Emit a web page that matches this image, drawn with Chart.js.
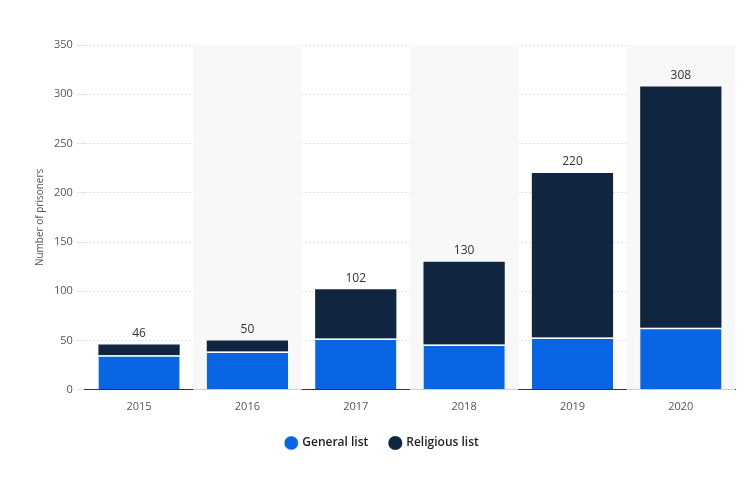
<!DOCTYPE html>
<html>
<head>
<script src="https://cdn.jsdelivr.net/npm/chart.js"></script>
<style>
  body { margin: 0; background: #fff; }
  #wrap { width: 753px; height: 479px; }
</style>
</head>
<body>
<div id="wrap"><canvas id="myChart"></canvas></div>
<script>
const years = ['2015', '2016', '2017', '2018', '2019', '2020'];
const generalList = [35, 39, 52, 46, 53, 63];
const totals = [46, 50, 102, 130, 220, 308];
const religiousList = [11, 11, 50, 84, 167, 245];
const yTicks = [0, 50, 100, 150, 200, 250, 300, 350];

// shaded background on every other column
const bandPlugin = {
  id: 'bands',
  beforeDatasetsDraw(chart) {
    const { ctx, chartArea, scales } = chart;
    const x = scales.x;
    const w = x.getPixelForValue(1) - x.getPixelForValue(0);
    ctx.save();
    ctx.fillStyle = '#f8f8f8';
    for (let i = 1; i < years.length; i += 2) {
      const cx = x.getPixelForValue(i);
      ctx.fillRect(cx - w / 2, chartArea.top, w, chartArea.bottom - chartArea.top);
    }
    ctx.restore();
  }
};

// totals above each stack
const totalPlugin = {
  id: 'totals',
  afterDatasetsDraw(chart) {
    const { ctx, scales } = chart;
    ctx.save();
    ctx.font = '12px "Open Sans", sans-serif';
    ctx.fillStyle = '#333';
    ctx.textAlign = 'center';
    ctx.textBaseline = 'bottom';
    totals.forEach((t, i) => {
      ctx.fillText(String(t), scales.x.getPixelForValue(i), scales.y.getPixelForValue(t) - 5);
    });
    ctx.restore();
  }
};

new Chart(document.getElementById('myChart'), {
  type: 'bar',
  data: {
    labels: years,
    datasets: [{
      label: 'General list',
      data: generalList,
      backgroundColor: '#0866e4',
      borderColor: '#ffffff',
      borderWidth: { top: 1.5 },
      borderSkipped: 'bottom',
      categoryPercentage: 0.75,
      barPercentage: 1
    }, {
      label: 'Religious list',
      data: religiousList,
      backgroundColor: '#102640',
      borderWidth: 0,
      categoryPercentage: 0.75,
      barPercentage: 1
    }]
  },
  options: {
    responsive: true,
    maintainAspectRatio: false,
    animation: false,
    layout: { padding: { left: 30, right: 18, top: 45, bottom: 20 } },
    plugins: {
      legend: {
        position: 'bottom',
        labels: {
          usePointStyle: true,
          pointStyle: 'circle',
          boxWidth: 10,
          boxHeight: 10,
          padding: 22,
          color: '#222',
          font: { family: '"Open Sans", sans-serif', size: 12, weight: '600' }
        }
      },
      tooltip: { enabled: false }
    },
    scales: {
      x: {
        stacked: true,
        grid: { display: false },
        border: { color: '#333', width: 1 },
        ticks: { color: '#555', padding: 2, font: { family: '"Open Sans", sans-serif', size: 11 } }
      },
      y: {
        stacked: true,
        min: 0,
        max: 350,
        afterBuildTicks(axis) { axis.ticks = yTicks.map(v => ({ value: v })); },
        grid: { color: '#e2e2e2' },
        border: { display: false, dash: [2, 2] },
        ticks: { color: '#555', padding: 4, font: { family: '"Open Sans", sans-serif', size: 11 } },
        title: {
          display: true,
          text: 'Number of prisoners',
          color: '#555',
          font: { family: '"Open Sans", sans-serif', size: 10 }
        }
      }
    }
  },
  plugins: [bandPlugin, totalPlugin]
});
</script>
</body>
</html>
